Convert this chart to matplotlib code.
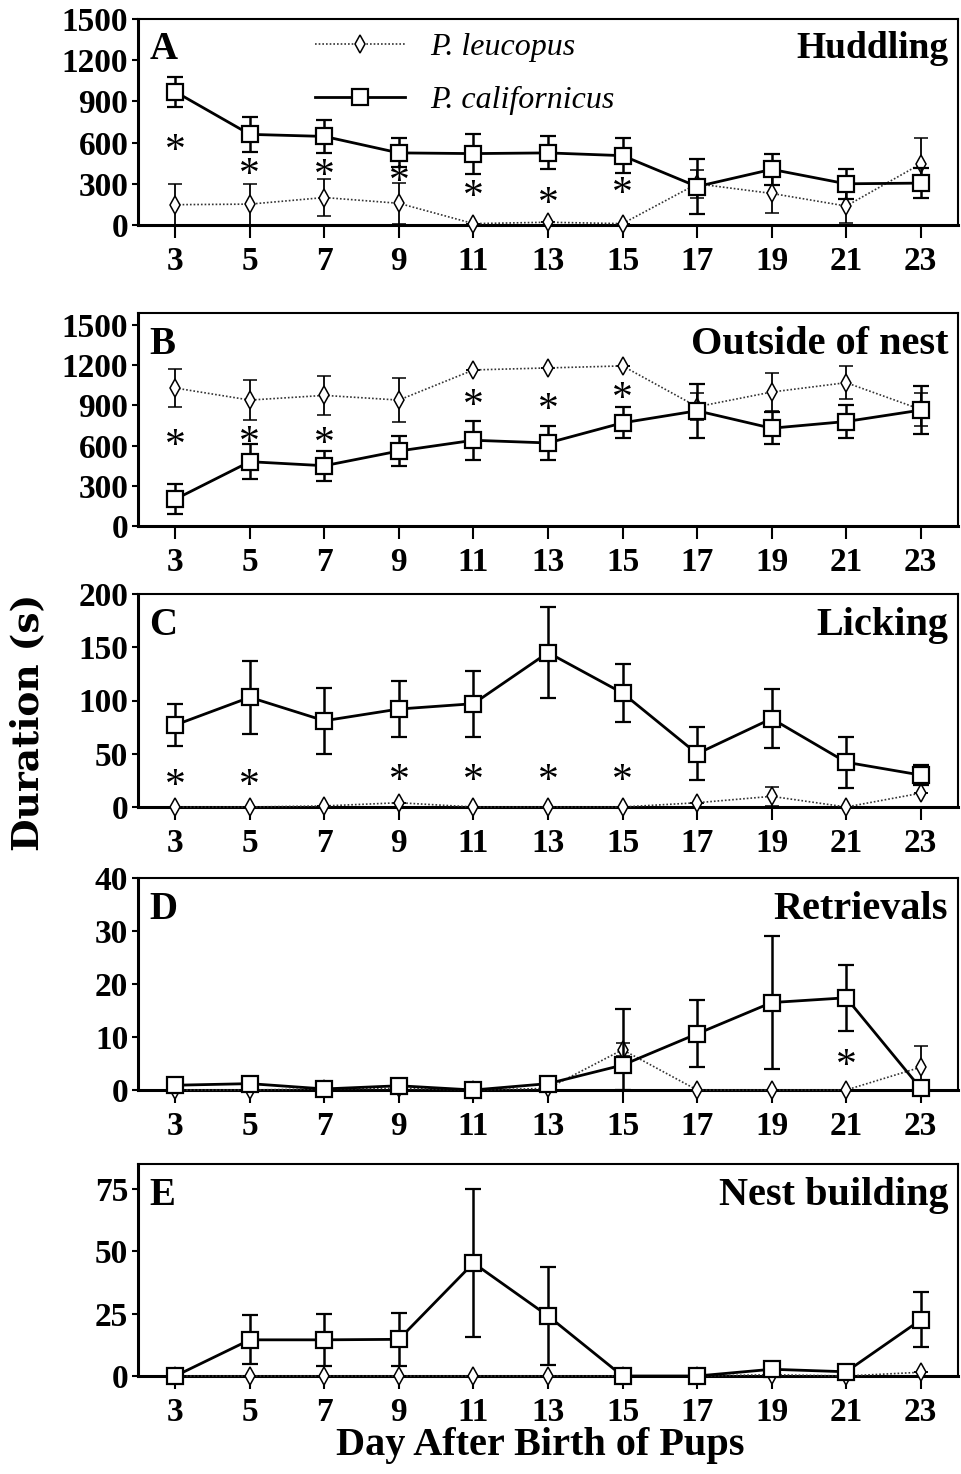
import matplotlib
matplotlib.use("Agg")
import matplotlib.pyplot as plt
import numpy as np

plt.rcParams.update({
    "font.family": ["Liberation Serif", "DejaVu Serif"],
    "font.weight": "bold",
})

# ── Data ──────────────────────────────────────────────────────────────────────
days = [3, 5, 7, 9, 11, 13, 15, 17, 19, 21, 23]

# A — Huddling
huddle_cal = [970, 660, 645, 525, 520, 525, 505, 280, 405, 300, 305]
huddle_cal_se = [110, 125, 120, 105, 145, 120, 125, 200, 115, 110, 110]
huddle_leu = [148, 152, 200, 158, 10, 20, 10, 300, 230, 138, 445]
huddle_leu_se = [147, 150, 137, 150, 0, 0, 0, 100, 140, 120, 190]
huddle_star_x = [3, 5, 7, 9, 11, 13, 15]
huddle_star_y = [595, 420, 415, 370, 262, 205, 280]

# B — Outside of nest
out_cal = [200, 480, 450, 560, 640, 620, 770, 860, 730, 780, 865]
out_cal_se = [110, 130, 111, 110, 145, 130, 115, 200, 120, 120, 180]
out_leu = [1030, 940, 975, 940, 1165, 1180, 1195, 890, 1000, 1070, 870]
out_leu_se = [140, 150, 145, 165, 0, 0, 0, 100, 145, 125, 120]
out_star_x = [3, 5, 7, 11, 13, 15]
out_star_y = [655, 675, 665, 950, 925, 1005]

# C — Licking
lick_cal = [77, 103, 81, 92, 97, 145, 107, 50, 83, 42, 30]
lick_cal_se = [20, 34, 31, 26, 31, 43, 27, 25, 28, 24, 9]
lick_leu = [0, 0, 1, 4, 0, 0, 0, 4, 10, 0, 13]
lick_leu_se = [0, 0, 0, 0, 0, 0, 0, 0, 9, 0, 0]
lick_star_x = [3, 5, 9, 11, 13, 15]
lick_star_y = [27, 27, 32, 32, 32, 32]

# D — Retrievals
retr_cal = [0.9, 1.2, 0.2, 0.8, 0.0, 1.2, 4.7, 10.6, 16.5, 17.4, 0.3]
retr_cal_se = [0, 0, 0, 0, 0, 0, 10.5, 6.3, 12.5, 6.2, 0]
retr_leu = [0, 0, 0.2, 0.3, 0, 0.3, 7.6, 0, 0, 0, 4.3]
retr_leu_se = [0, 0, 0, 0, 0, 0, 1.2, 0, 0, 0, 4.0]
retr_star_x = [21]
retr_star_y = [6.0]

# E — Nest building
nest_cal = [0, 14.5, 14.5, 14.7, 45.3, 24.1, 0, 0, 2.7, 1.7, 22.5]
nest_cal_se = [0, 9.8, 10.5, 10.7, 29.5, 19.8, 0, 0, 0, 0, 11]
nest_leu = [0, 0, 0, 0, 0, 0, 0, 0, 0.5, 0, 1.5]
nest_leu_se = [0, 0, 0, 0, 0, 0, 0, 0, 0, 0, 0]

panels = [
    ("A", "Huddling", huddle_cal, huddle_cal_se, huddle_leu, huddle_leu_se,
     huddle_star_x, huddle_star_y, 1500, [0, 300, 600, 900, 1200, 1500]),
    ("B", "Outside of nest", out_cal, out_cal_se, out_leu, out_leu_se,
     out_star_x, out_star_y, 1590, [0, 300, 600, 900, 1200, 1500]),
    ("C", "Licking", lick_cal, lick_cal_se, lick_leu, lick_leu_se,
     lick_star_x, lick_star_y, 200, [0, 50, 100, 150, 200]),
    ("D", "Retrievals", retr_cal, retr_cal_se, retr_leu, retr_leu_se,
     retr_star_x, retr_star_y, 40, [0, 10, 20, 30, 40]),
    ("E", "Nest building", nest_cal, nest_cal_se, nest_leu, nest_leu_se,
     [], [], 85, [0, 25, 50, 75]),
]

# axes rectangles in pixel rows (top, bottom) of the 961x1474 canvas
W, H = 961, 1474
rows = [(19, 225), (313, 526), (594, 807), (878, 1090), (1164, 1376)]
LEFT, RIGHT = 138, 958

fig = plt.figure(figsize=(W / 100, H / 100), dpi=100)

for (letter, title, cal, cal_se, leu, leu_se, sx, sy, ytop, yticks), (t, b) in zip(panels, rows):
    ax = fig.add_axes([LEFT / W, 1 - b / H, (RIGHT - LEFT) / W, (b - t) / H])

    cal = np.array(cal, float); cal_se = np.array(cal_se, float)
    leu = np.array(leu, float); leu_se = np.array(leu_se, float)

    eb1 = ax.errorbar(days, leu, yerr=[np.minimum(leu_se, leu), leu_se],
                      fmt="d", ls=(0, (1, 1.2)), lw=1.2, color="#333333",
                      mfc="white", mec="black", mew=1.1, ms=9,
                      ecolor="black", elinewidth=1.3, capsize=5, capthick=1.3,
                      zorder=3)
    eb2 = ax.errorbar(days, cal, yerr=[np.minimum(cal_se, cal), cal_se],
                      fmt="s", ls="-", lw=2.0, color="black",
                      mfc="white", mec="black", mew=1.6, ms=11.5,
                      ecolor="black", elinewidth=1.8, capsize=5.5, capthick=2,
                      zorder=4)
    for cont in (eb1, eb2):
        for art in cont.get_children():
            art.set_clip_on(False)

    for x, y in zip(sx, sy):
        ax.annotate("*", (x, y), xytext=(0, -6), textcoords="offset points",
                    ha="center", va="center", fontsize=30, fontweight="normal")

    ax.set_xlim(2, 24)
    ax.set_ylim(0, ytop)
    ax.set_xticks(days)
    ax.set_yticks(yticks)
    ax.tick_params(axis="x", direction="out", length=9, width=1.5, pad=6,
                   labelsize=24)
    ax.tick_params(axis="y", direction="out", length=4, width=1.5, pad=3,
                   labelsize=24)
    for lab in ax.get_xticklabels() + ax.get_yticklabels():
        lab.set_fontweight("bold")
    for side in ["left", "bottom"]:
        ax.spines[side].set_linewidth(2.2)
    for side in ["top", "right"]:
        ax.spines[side].set_linewidth(1.5)

    ax.text(0.014, 0.94, letter, transform=ax.transAxes, ha="left", va="top",
            fontsize=28, fontweight="bold")
    ax.text(0.988, 0.94, title, transform=ax.transAxes, ha="right", va="top",
            fontsize=29 if letter != "A" else 27, fontweight="bold")

    if letter == "A":
        ax.legend([eb1.lines[0], eb2.lines[0]], ["P. leucopus", "P. californicus"],
                  loc="upper left", bbox_to_anchor=(0.216, 0.935),
                  frameon=False, numpoints=1, handlelength=2.8,
                  handletextpad=0.8, labelspacing=0.75, borderpad=0,
                  borderaxespad=0, prop={"size": 23, "style": "italic",
                                         "weight": "normal"})

fig.text(28 / W, 1 - 722 / H, "Duration (s)", rotation=90, ha="center",
         va="center", fontsize=27, fontweight="bold", family="DejaVu Serif")
fig.text(540 / W, 1 - 1446 / H, "Day After Birth of Pups", ha="center",
         va="center", fontsize=29, fontweight="bold")

fig.savefig("out.png", dpi=100)
